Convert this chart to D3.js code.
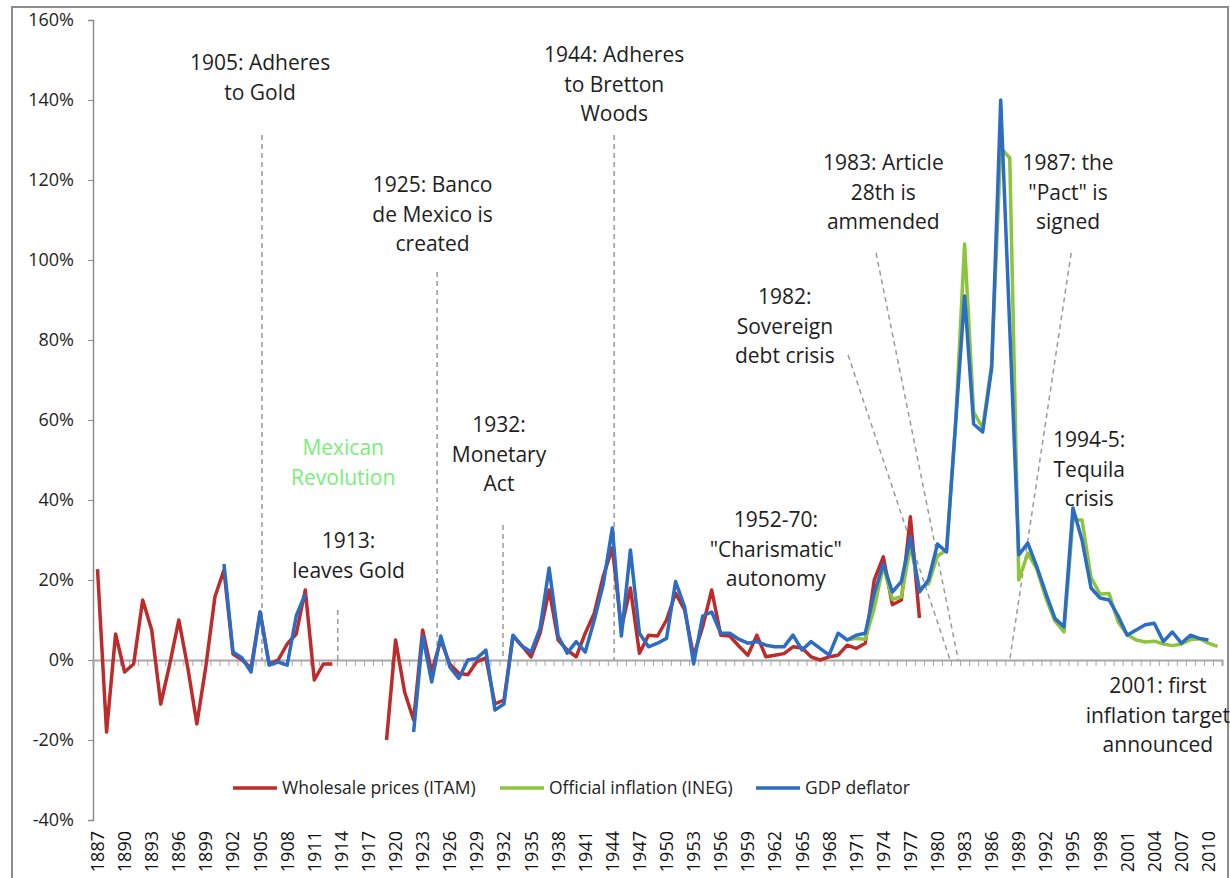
<!DOCTYPE html>
<html>
<head>
<meta charset="utf-8">
<script src="https://cdn.jsdelivr.net/npm/d3@7"></script>
<style>
  body { margin: 0; background: #fff; }
  text { font-family: "Open Sans", sans-serif; }
</style>
</head>
<body>
<svg id="chart" width="1230" height="878"></svg>
<script>
// years on the category axis
const years = d3.range(1887, 2012);
const labelYears = d3.range(1887, 2011, 3);
const yTicks = d3.range(-40, 161, 20);

// Wholesale prices (ITAM), two pieces
const wholesale1887 = [22.7, -18, 6.5, -3, -1, 15, 7.5, -11, -1, 10, -2, -16, -1.5, 15.8, 22.5,
  1.5, 0, -2, 12, -1, 0, 4, 6.5, 17.5, -5, -1, -1];
const wholesale1919 = [-20, 5, -8, -15, 7.5, -3, 5, -1, -3.3, -3.7, -0.4, 0.5, -11, -10, 6, 3.5,
  0.8, 6.7, 17.5, 5, 2.5, 0.8, 6.7, 11.7, 21, 28, 8, 18, 1.7, 6.2, 6, 10, 16.7, 12.5, 1, 8.3,
  17.5, 6.2, 6, 3.5, 1.2, 6.2, 0.8, 1.2, 1.6, 3.3, 3, 0.8, 0, 0.8, 1.2, 3.7, 2.9, 4.2, 20, 25.8,
  13.8, 15, 35.8, 10.5];

// Official inflation (INEG)
const official1970 = [5, 5.4, 5.2, 13, 23.5, 15.2, 15.8, 28.5, 18, 19, 26, 27.5, 59, 104, 62,
  58, 74, 128, 125.5, 20, 26.7, 22.7, 15.5, 9.8, 7, 35, 35, 20.6, 16.5, 16.6, 9.5, 6.4, 5, 4.5,
  4.7, 4, 3.6, 4, 5.1, 5.3, 4.2, 3.4];

// GDP deflator, two pieces
const deflator1901 = [24, 2, 0.5, -3, 12, -1.3, -0.5, -1.3, 11, 16.5];
const deflator1922 = [-18, 6, -5.5, 6, -1.7, -4.6, 0, 0.4, 2.5, -12.5, -11, 6.2, 3.5, 2, 8, 23,
  6, 1.7, 4.6, 2, 10, 19, 33, 6, 27.5, 6.7, 3.3, 4.2, 5.4, 19.6, 13.3, -1, 11, 12, 6.7, 6.7, 5.2,
  4.2, 4.6, 3.7, 3.3, 3.3, 6.2, 2.5, 4.6, 2.9, 1.2, 6.7, 5, 6.2, 6.7, 16.7, 24, 17, 19.6, 30.8,
  17, 20, 29, 27, 59, 91, 59, 57, 73, 140, 83, 26.3, 29.2, 23.3, 16.7, 10.4, 8.3, 38, 30, 18,
  15.5, 15, 11, 6.2, 7.5, 8.8, 9.2, 4.6, 7, 4.2, 6.2, 5.4, 5];

// annotations: year / value of the first text line
const notes = [
  {lines: ["1905: Adheres", "to Gold"], year: 1905.0, val: 149.25},
  {lines: ["Mexican", "Revolution"], year: 1914.2, val: 53, color: "#78ee78"},
  {lines: ["1913:", "leaves Gold"], year: 1914.8, val: 29.75},
  {lines: ["1925: Banco", "de Mexico is", "created"], year: 1924.1, val: 118.75},
  {lines: ["1932:", "Monetary", "Act"], year: 1931.45, val: 58.75},
  {lines: ["1944: Adheres", "to Bretton", "Woods"], year: 1944.2, val: 151.25},
  {lines: ["1952-70:", "\"Charismatic\"", "autonomy"], year: 1962.1, val: 35},
  {lines: ["1982:", "Sovereign", "debt crisis"], year: 1963.1, val: 90.75},
  {lines: ["1983: Article", "28th is", "ammended"], year: 1974.0, val: 124.25},
  {lines: ["1987: the", "\"Pact\" is", "signed"], year: 1994.45, val: 124.25},
  {lines: ["1994-5:", "Tequila", "crisis"], year: 1996.8, val: 55},
  {lines: ["2001: first", "inflation target", "announced"], year: 2004.4, val: -6.5}
];

// dashed pointer lines [year1, val1, year2, val2]
const pointers = [
  [1905.2, 131.25, 1905.2, 0],
  [1913.6, 12.5, 1913.6, 0],
  [1924.6, 97, 1924.6, 0],
  [1931.9, 33.75, 1931.9, 0],
  [1944.2, 131.25, 1944.2, 0],
  [1970.1, 76.25, 1981.4, 0],
  [1973.2, 101.75, 1982.3, 0],
  [1994.8, 101.75, 1988.0, 0]
];

let svg = d3.select("#chart"),
    red = "#be2b2b",
    green = "#8cc43c",
    blue = "#2b6cc4",
    textColor = "#1e1e1e";

let x = d3.scaleLinear().domain([1886.5, 2011.5]).range([93, 1222]),
    y = d3.scaleLinear().domain([-40, 160]).range([820, 20]);

// outer frame
svg.append("rect")
   .attr("x", 12).attr("y", 7)
   .attr("width", 1216).attr("height", 900)
   .attr("fill", "none")
   .attr("stroke", "#8c8c8c")
   .attr("stroke-width", 2);

// y axis
let yAxis = svg.append("g")
   .attr("transform", "translate(" + x.range()[0] + ",0)")
   .call(d3.axisLeft(y).tickValues(yTicks).tickFormat(d => d + "%").tickSize(5).tickPadding(14));
yAxis.select(".domain").attr("stroke", "#8c8c8c").attr("stroke-width", 1.5);
yAxis.selectAll(".tick line").attr("stroke", "#8c8c8c");
yAxis.selectAll("text").attr("font-size", 18).attr("fill", textColor).attr("font-family", "Open Sans");

// x axis sits on the zero line, ticks every year
let xAxis = svg.append("g")
   .attr("transform", "translate(0," + y(0) + ")")
   .call(d3.axisBottom(x).tickValues(d3.range(1886.5, 2012, 1)).tickSize(6).tickFormat(""));
xAxis.select(".domain").attr("stroke", "#a6a6a6").attr("stroke-width", 2);
xAxis.selectAll(".tick line").attr("stroke", "#a6a6a6");

// year labels at the bottom (label position low)
svg.append("g").selectAll("text")
   .data(labelYears)
   .enter()
   .append("text")
   .attr("transform", d => "translate(" + (x(d) + 6.5) + "," + 831 + ") rotate(-90)")
   .attr("text-anchor", "end")
   .attr("font-size", 18)
   .attr("fill", "#111")
   .text(d => d);

// dashed pointers
svg.append("g").selectAll("line")
   .data(pointers)
   .enter()
   .append("line")
   .attr("x1", d => x(d[0])).attr("y1", d => y(d[1]))
   .attr("x2", d => x(d[2])).attr("y2", d => y(d[3]))
   .attr("stroke", "#9a9a9a")
   .attr("stroke-width", 1.5)
   .attr("stroke-dasharray", "5,4");

function toSeries(start, vals) {
  return years.map(yr => {
    let i = yr - start;
    return {year: yr, value: (i >= 0 && i < vals.length) ? vals[i] : null};
  });
}

function mergeSeries(a, b) {
  return a.map((d, i) => d.value != null ? d : b[i]);
}

let wholesale = mergeSeries(toSeries(1887, wholesale1887), toSeries(1919, wholesale1919)),
    official = toSeries(1970, official1970),
    deflator = mergeSeries(toSeries(1901, deflator1901), toSeries(1922, deflator1922));

let line = d3.line()
   .defined(d => d.value != null)
   .x(d => x(d.year))
   .y(d => y(d.value));

[[wholesale, red], [official, green], [deflator, blue]].forEach(s => {
  svg.append("path")
     .datum(s[0])
     .attr("fill", "none")
     .attr("stroke", s[1])
     .attr("stroke-width", 3.5)
     .attr("stroke-linejoin", "round")
     .attr("d", line);
});

// annotation text
notes.forEach(n => {
  let t = svg.append("text")
     .attr("text-anchor", "middle")
     .attr("font-size", 21)
     .attr("fill", n.color || textColor);
  n.lines.forEach((l, i) => {
    t.append("tspan")
     .attr("x", x(n.year))
     .attr("y", y(n.val) + i * 29.5)
     .attr("dy", "0.35em")
     .text(l);
  });
});

// legend
let legendItems = [
  {name: "Wholesale prices (ITAM)", color: red, x0: 233},
  {name: "Official inflation (INEG)", color: green, x0: 500},
  {name: "GDP deflator", color: blue, x0: 756}
];
let legend = svg.append("g").attr("transform", "translate(0,788)");
legendItems.forEach(d => {
  legend.append("line")
        .attr("x1", d.x0).attr("x2", d.x0 + 44)
        .attr("y1", 0).attr("y2", 0)
        .attr("stroke", d.color)
        .attr("stroke-width", 3.5);
  legend.append("text")
        .attr("x", d.x0 + 49)
        .attr("dy", "0.35em")
        .attr("font-size", 17.5)
        .attr("fill", textColor)
        .text(d.name);
});
</script>
</body>
</html>
